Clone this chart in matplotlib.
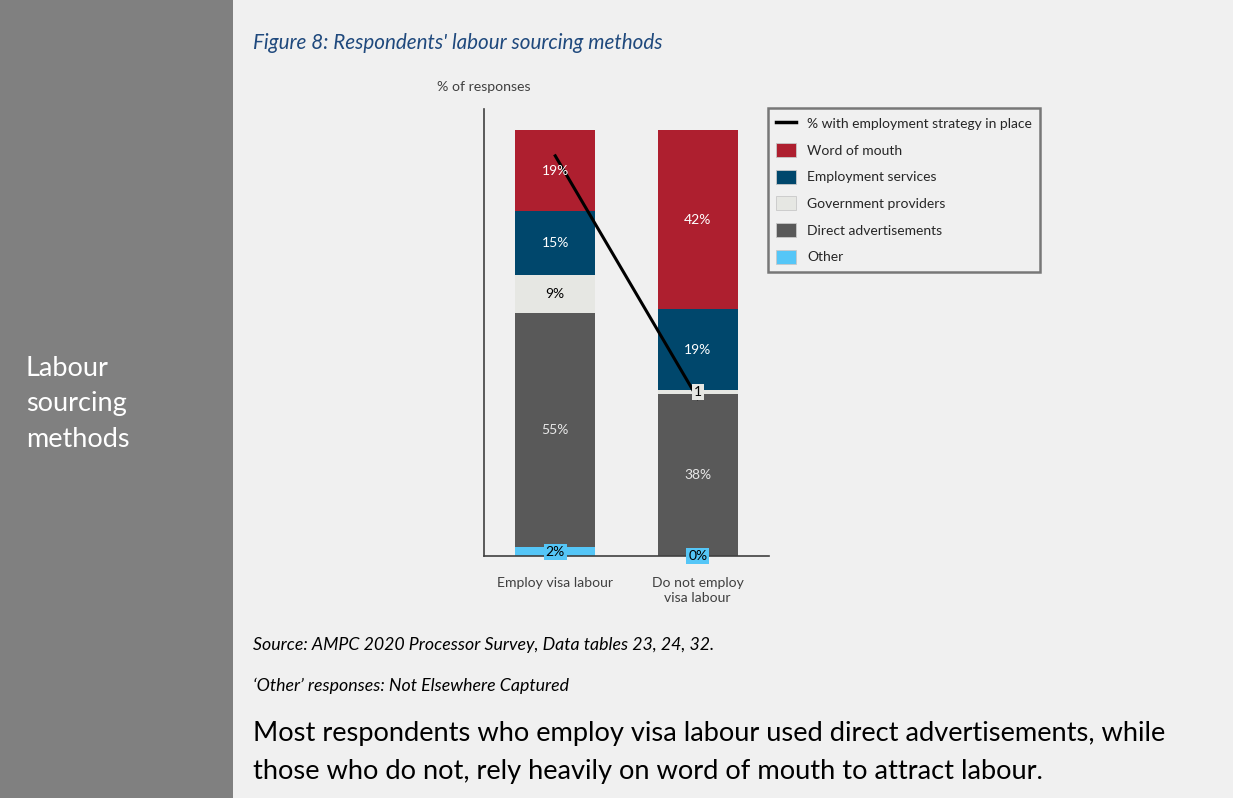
import numpy as np
import matplotlib.pyplot as plt
from matplotlib.patches import Rectangle, Patch
from matplotlib.lines import Line2D

plt.rcParams['font.family'] = ['Lato', 'DejaVu Sans']

groups = ['Employ visa labour', 'Do not employ\nvisa labour']
# stacked from the bottom up
methods = ['Other', 'Direct advertisements', 'Government providers',
           'Employment services', 'Word of mouth']
other = [2, 0]
direct_ads = [55, 38]
government = [9, 1]
employment = [15, 19]
word_of_mouth = [19, 42]
strategy = [94, 37]

colors = {
    'Word of mouth': '#ae1f2f',
    'Employment services': '#00476c',
    'Government providers': '#e6e7e3',
    'Direct advertisements': '#595959',
    'Other': '#55c6f7',
}
label_colors = {
    'Word of mouth': 'white',
    'Employment services': 'white',
    'Government providers': 'black',
    'Direct advertisements': '#e8e8e8',
    'Other': 'black',
}

W, H = 1233, 798
fig = plt.figure(figsize=(W / 100, H / 100), dpi=100)
fig.patch.set_facecolor('#f0f0f0')

# grey side panel
fig.add_artist(Rectangle((0, 0), 233 / W, 1, transform=fig.transFigure,
                         facecolor='#808080', edgecolor='none', zorder=0))
fig.text(26 / W, 1 - 404 / H, 'Labour\nsourcing\nmethods', color='white',
         fontsize=19.5, va='center', ha='left', linespacing=1.52)

fig.text(253 / W, 1 - 43 / H, "Figure 8: Respondents' labour sourcing methods",
         color='#1f497d', fontsize=14.9, style='italic', va='center')

ax = fig.add_axes([484 / W, 1 - 556 / H, 285 / W, 447 / H])
ax.set_facecolor('#f0f0f0')

x = np.arange(len(groups))
series = [other, direct_ads, government, employment, word_of_mouth]
bottom = np.zeros(len(groups))
for name, vals in zip(methods, series):
    vals = np.array(vals, dtype=float)
    ax.bar(x, vals, 0.56, bottom=bottom, color=colors[name], zorder=2)
    for i, v in enumerate(vals):
        yc = bottom[i] + v / 2
        if name == 'Other':
            ax.text(x[i], bottom[i] + v / 2, f'{v:.0f}%', ha='center', va='center',
                    fontsize=10, color='black', zorder=5,
                    bbox=dict(boxstyle='square,pad=0.15', facecolor=colors[name],
                              edgecolor='none'))
        elif name == 'Government providers' and v < 3:
            ax.text(x[i], yc, f'{v:.0f}', ha='center', va='center',
                    fontsize=10, color='black', zorder=5,
                    bbox=dict(boxstyle='square,pad=0.15', facecolor=colors[name],
                              edgecolor='none'))
        else:
            ax.text(x[i], yc, f'{v:.0f}%', ha='center', va='center',
                    fontsize=10, color=label_colors[name], zorder=4)
    bottom += vals

ax.plot(x, strategy, color='black', lw=2.2, zorder=3)

ax.set_xlim(-0.5, 1.5)
ax.set_ylim(0, 105)
ax.set_yticks([])
ax.set_xticks(x)
ax.set_xticklabels(groups, fontsize=10.1, color='#404040', linespacing=1.35)
ax.tick_params(axis='x', length=0, pad=15)
for s in ['top', 'right']:
    ax.spines[s].set_visible(False)
ax.spines['left'].set_color('#404040')
ax.spines['bottom'].set_color('#404040')
ax.spines['left'].set_linewidth(1.2)
ax.spines['bottom'].set_linewidth(1.2)

fig.text(437 / W, 1 - 87 / H, '% of responses', fontsize=10.2, color='#404040',
         va='center', ha='left')

handles = [Line2D([0], [0], color='black', lw=2.5)]
labels = ['% with employment strategy in place']
for name in reversed(methods):
    handles.append(Patch(facecolor=colors[name], edgecolor='#c8c8c8', lw=0.6))
    labels.append(name)
leg = fig.legend(handles, labels, loc='upper left',
                 bbox_to_anchor=(768 / W, 1 - 108 / H), fontsize=10,
                 frameon=True, fancybox=False, handlelength=1.4,
                 handleheight=1.15, handletextpad=0.8, labelspacing=0.93,
                 borderpad=0.6, borderaxespad=0)
leg.get_frame().set_edgecolor('#595959')
leg.get_frame().set_linewidth(1.8)
leg.get_frame().set_facecolor('#f0f0f0')
for t in leg.get_texts():
    t.set_color('#262626')

fig.text(253 / W, 1 - 645 / H, 'Source: AMPC 2020 Processor Survey, Data tables 23, 24, 32.',
         fontsize=12.8, style='italic', va='center', color='black')
fig.text(253 / W, 1 - 686 / H, '\u2018Other\u2019 responses: Not Elsewhere Captured',
         fontsize=12.8, style='italic', va='center', color='black')
fig.text(253 / W, 1 - 733 / H,
         'Most respondents who employ visa labour used direct advertisements, while',
         fontsize=19.6, va='center', color='black')
fig.text(253 / W, 1 - 771 / H,
         'those who do not, rely heavily on word of mouth to attract labour.',
         fontsize=19.6, va='center', color='black')

fig.savefig('out.png', dpi=100, facecolor=fig.get_facecolor())
